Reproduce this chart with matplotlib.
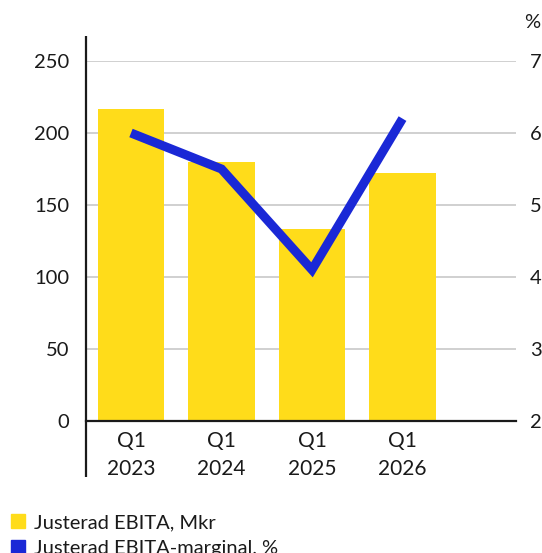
import matplotlib
matplotlib.use("Agg")
import matplotlib.pyplot as plt
from matplotlib.patches import Patch

plt.rcParams["font.family"] = ["Lato", "DejaVu Sans"]

CATEGORIES = ["Q1\n2023", "Q1\n2024", "Q1\n2025", "Q1\n2026"]
EBITA = [217, 180, 133, 172]          # Mkr
MARGIN = [6.0, 5.5, 4.1, 6.2]         # %

LEFT_TICKS = [0, 50, 100, 150, 200, 250]
RIGHT_TICKS = [2, 3, 4, 5, 6, 7]

YELLOW = "#FFDC1A"
BLUE = "#1A28D6"
GRID = "#C8C8C8"
TEXT = "#1a1a1a"
FS = 14.5


def main():
    fig = plt.figure(figsize=(5.42, 5.53), dpi=100)
    ax = fig.add_axes([86 / 542, 1 - 421 / 553, 430 / 542, 360 / 553])

    x = list(range(len(CATEGORIES)))
    ax.bar(x, EBITA, width=0.73, color=YELLOW, zorder=2)

    ax.set_xlim(-0.497, 4.254)
    ax.set_ylim(0, 250)
    ax.set_yticks(LEFT_TICKS)
    ax.set_xticks(x)
    ax.set_xticklabels(CATEGORIES, linespacing=1.5)
    ax.tick_params(axis="y", length=0, pad=12, labelsize=FS, labelcolor=TEXT)
    ax.tick_params(axis="x", length=0, pad=7, labelsize=15, labelcolor=TEXT)

    for v in LEFT_TICKS[1:]:
        ax.axhline(v, color=GRID, lw=1.2, zorder=1)
    ax.axhline(0, color=TEXT, lw=1.6, zorder=3, clip_on=False)

    for s in ax.spines.values():
        s.set_visible(False)
    ax.plot([0, 0], [-0.156, 1.069], transform=ax.transAxes,
            color=TEXT, lw=1.6, clip_on=False, solid_capstyle="butt")

    ax2 = ax.twinx()
    ax2.set_ylim(2, 7)
    ax2.set_yticks(RIGHT_TICKS)
    ax2.tick_params(axis="y", length=0, pad=10, labelsize=FS, labelcolor=TEXT)
    for s in ax2.spines.values():
        s.set_visible(False)
    ax2.plot(x, MARGIN, color=BLUE, lw=6.5, zorder=4,
             solid_capstyle="butt", solid_joinstyle="miter")

    fig.text(532 / 542, 1 - 22 / 553, "%", ha="center", va="center",
             fontsize=FS, color=TEXT)

    handles = [Patch(color=YELLOW), Patch(color=BLUE)]
    fig.legend(handles, ["Justerad EBITA, Mkr", "Justerad EBITA-marginal, %"],
               loc="upper left", bbox_to_anchor=(0.005, 1 - 506 / 553),
               frameon=False, fontsize=FS, handlelength=0.7, handleheight=0.7,
               handletextpad=0.45, labelspacing=0.45, borderaxespad=0,
               labelcolor=TEXT)

    fig.savefig("out.png", dpi=100)


if __name__ == "__main__":
    main()
